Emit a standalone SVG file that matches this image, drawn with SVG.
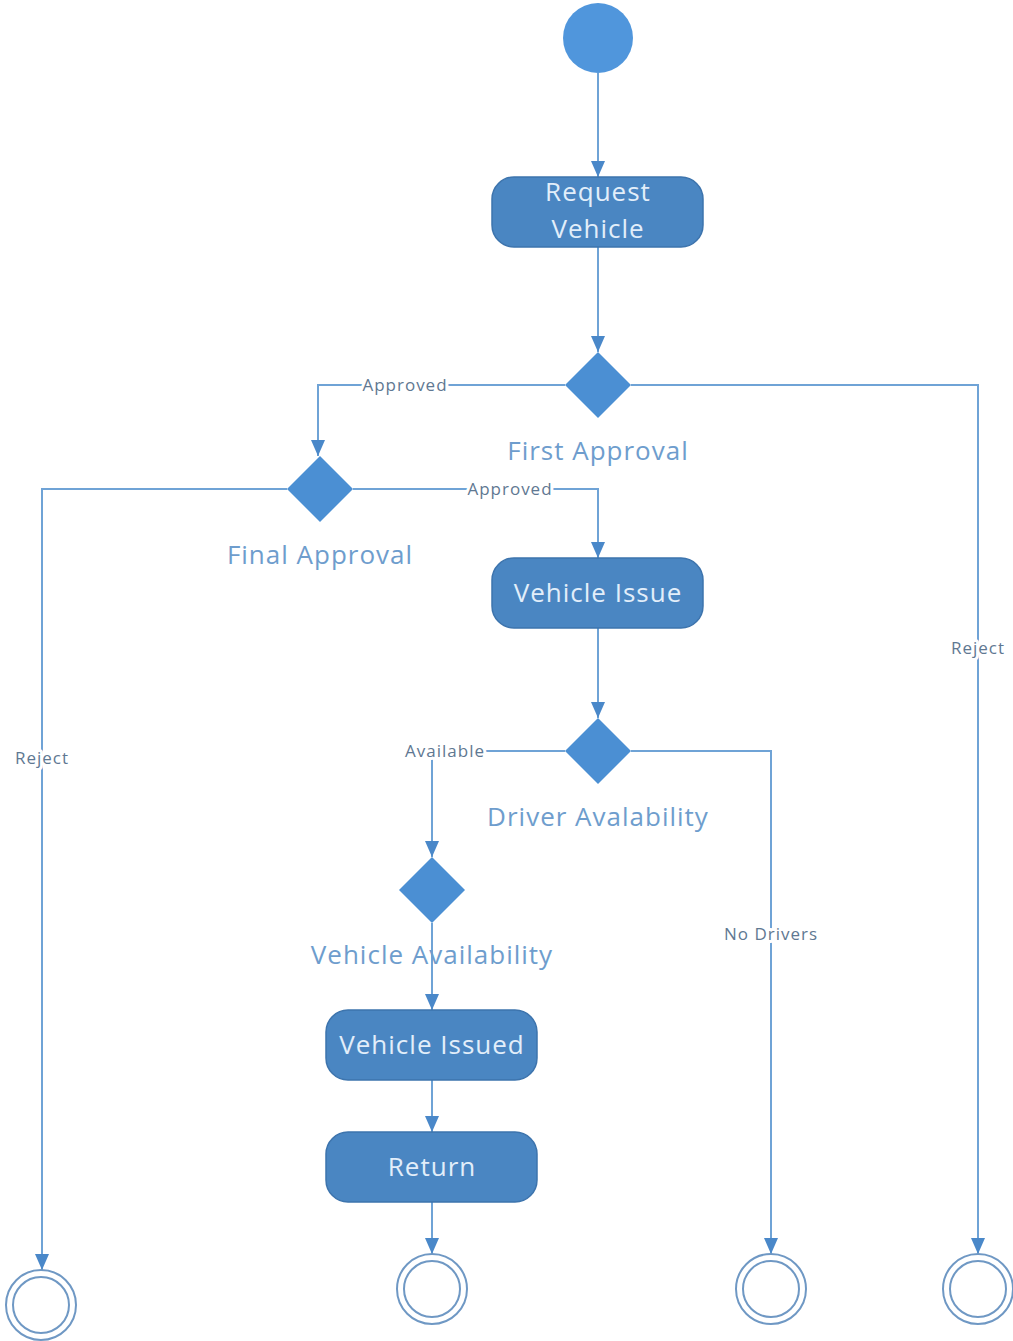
<svg xmlns="http://www.w3.org/2000/svg" width="1013" height="1341" viewBox="0 0 1013 1341">
  <style>
    .edge { fill: none; stroke: #6fa3d6; stroke-width: 2; marker-end: url(#arrow); }
    .action rect { fill: #4a86c2; stroke: #3d74ad; stroke-width: 1.5; }
    .action text { fill: #e2eefa; font-family: "Open Sans", "Noto Sans", sans-serif; font-size: 26px; letter-spacing: 1px; text-anchor: middle; }
    .decision path { fill: #4b8fd3; }
    .decision text { fill: #6e9dcd; font-family: "Open Sans", "Noto Sans", sans-serif; font-size: 26px; letter-spacing: 1px; text-anchor: middle; }
    .final circle { fill: #ffffff; stroke: #6f98c4; stroke-width: 2; }
    .elabel { fill: #5f7892; font-family: "Open Sans", "Noto Sans", sans-serif; font-size: 17px; letter-spacing: 1px; text-anchor: middle; stroke: #ffffff; stroke-width: 6; paint-order: stroke; stroke-linejoin: round; }
  </style>
  <defs>
    <marker id="arrow" viewBox="0 0 16 14" refX="16" refY="7" markerWidth="16" markerHeight="14" markerUnits="userSpaceOnUse" orient="auto">
      <path d="M0,0 L16,7 L0,14 Z" fill="#4a88c9"/>
    </marker>
  </defs>
  <rect width="1013" height="1341" fill="#ffffff"/>

  <!-- connectors -->
  <g id="connectors">
    <path class="edge" d="M598,73 V177"/>
    <path class="edge" d="M598,247 V352"/>
    <path class="edge" d="M565,385 H318 V456"/>
    <path class="edge" d="M631,385 H978 V1254"/>
    <path class="edge" d="M287,489 H42 V1270"/>
    <path class="edge" d="M353,489 H598 V558"/>
    <path class="edge" d="M598,628 V718"/>
    <path class="edge" d="M565,751 H432 V857"/>
    <path class="edge" d="M631,751 H771 V1254"/>
    <path class="edge" d="M432,923 V1010"/>
    <path class="edge" d="M432,1080 V1132"/>
    <path class="edge" d="M432,1202 V1254"/>
    <text class="elabel" x="405" y="391">Approved</text>
    <text class="elabel" x="978" y="654">Reject</text>
    <text class="elabel" x="42" y="764">Reject</text>
    <text class="elabel" x="510" y="495">Approved</text>
    <text class="elabel" x="445" y="757">Available</text>
    <text class="elabel" x="771" y="940">No Drivers</text>
  </g>

  <!-- start -->
  <g id="start">
    <circle cx="598" cy="38" r="35" fill="#5096dc"/>
  </g>

  <g id="request-vehicle" class="action">
    <rect x="492" y="177" width="211" height="70" rx="22"/>
    <text x="598" y="201">Request</text>
    <text x="598" y="238">Vehicle</text>
  </g>

  <g id="first-approval" class="decision">
    <path d="M598,352 L631,385 L598,418 L565,385 Z"/>
    <text x="598" y="460">First Approval</text>
  </g>

  <g id="final-approval" class="decision">
    <path d="M320,456 L353,489 L320,522 L287,489 Z"/>
    <text x="320" y="564">Final Approval</text>
  </g>

  <g id="vehicle-issue" class="action">
    <rect x="492" y="558" width="211" height="70" rx="22"/>
    <text x="598" y="602">Vehicle Issue</text>
  </g>

  <g id="driver-availability" class="decision">
    <path d="M598,718 L631,751 L598,784 L565,751 Z"/>
    <text x="598" y="826">Driver Avalability</text>
  </g>

  <g id="vehicle-availability" class="decision">
    <path d="M432,857 L465,890 L432,923 L399,890 Z"/>
    <text x="432" y="964">Vehicle Availability</text>
  </g>

  <g id="vehicle-issued" class="action">
    <rect x="326" y="1010" width="211" height="70" rx="22"/>
    <text x="432" y="1054">Vehicle Issued</text>
  </g>

  <g id="return" class="action">
    <rect x="326" y="1132" width="211" height="70" rx="22"/>
    <text x="432" y="1176">Return</text>
  </g>

  <!-- final nodes -->
  <g id="end-reject-final" class="final">
    <circle cx="41" cy="1305" r="35"/>
    <circle cx="41" cy="1305" r="28"/>
  </g>
  <g id="end-return" class="final">
    <circle cx="432" cy="1289" r="35"/>
    <circle cx="432" cy="1289" r="28"/>
  </g>
  <g id="end-no-drivers" class="final">
    <circle cx="771" cy="1289" r="35"/>
    <circle cx="771" cy="1289" r="28"/>
  </g>
  <g id="end-reject-first" class="final">
    <circle cx="978" cy="1289" r="35"/>
    <circle cx="978" cy="1289" r="28"/>
  </g>
</svg>
